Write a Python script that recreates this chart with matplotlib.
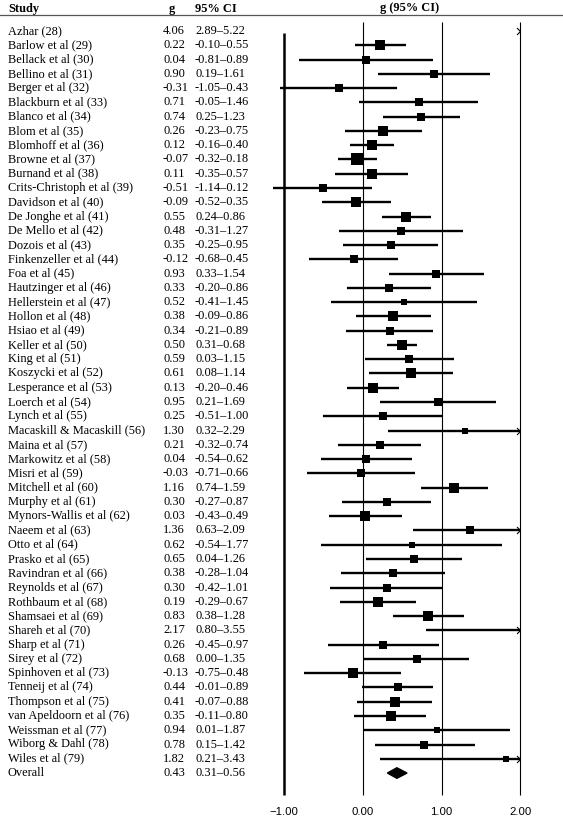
import numpy as np
import matplotlib
matplotlib.use("Agg")
from matplotlib import pyplot as plt
from matplotlib.path import Path
from matplotlib.patches import Polygon

# study data
studies = [
    "Azhar (28)", "Barlow et al (29)", "Bellack et al (30)", "Bellino et al (31)",
    "Berger et al (32)", "Blackburn et al (33)", "Blanco et al (34)", "Blom et al (35)",
    "Blomhoff et al (36)", "Browne et al (37)", "Burnand et al (38)",
    "Crits-Christoph et al (39)", "Davidson et al (40)", "De Jonghe et al (41)",
    "De Mello et al (42)", "Dozois et al (43)", "Finkenzeller et al (44)", "Foa et al (45)",
    "Hautzinger et al (46)", "Hellerstein et al (47)", "Hollon et al (48)",
    "Hsiao et al (49)", "Keller et al (50)", "King et al (51)", "Koszycki et al (52)",
    "Lesperance et al (53)", "Loerch et al (54)", "Lynch et al (55)",
    "Macaskill & Macaskill (56)", "Maina et al (57)", "Markowitz et al (58)",
    "Misri et al (59)", "Mitchell et al (60)", "Murphy et al (61)",
    "Mynors-Wallis et al (62)", "Naeem et al (63)", "Otto et al (64)",
    "Prasko et al (65)", "Ravindran et al (66)", "Reynolds et al (67)",
    "Rothbaum et al (68)", "Shamsaei et al (69)", "Shareh et al (70)", "Sharp et al (71)",
    "Sirey et al (72)", "Spinhoven et al (73)", "Tenneij et al (74)",
    "Thompson et al (75)", "van Apeldoorn et al (76)", "Weissman et al (77)",
    "Wiborg & Dahl (78)", "Wiles et al (79)",
]
g = [4.06, 0.22, 0.04, 0.90, -0.31, 0.71, 0.74, 0.26, 0.12, -0.07, 0.11, -0.51, -0.09,
     0.55, 0.48, 0.35, -0.12, 0.93, 0.33, 0.52, 0.38, 0.34, 0.50, 0.59, 0.61, 0.13,
     0.95, 0.25, 1.30, 0.21, 0.04, -0.03, 1.16, 0.30, 0.03, 1.36, 0.62, 0.65, 0.38,
     0.30, 0.19, 0.83, 2.17, 0.26, 0.68, -0.13, 0.44, 0.41, 0.35, 0.94, 0.78, 1.82]
lo = [2.89, -0.10, -0.81, 0.19, -1.05, -0.05, 0.25, -0.23, -0.16, -0.32, -0.35, -1.14,
      -0.52, 0.24, -0.31, -0.25, -0.68, 0.33, -0.20, -0.41, -0.09, -0.21, 0.31, 0.03,
      0.08, -0.20, 0.21, -0.51, 0.32, -0.32, -0.54, -0.71, 0.74, -0.27, -0.43, 0.63,
      -0.54, 0.04, -0.28, -0.42, -0.29, 0.38, 0.80, -0.45, 0.00, -0.75, -0.01, -0.07,
      -0.11, 0.01, 0.15, 0.21]
hi = [5.22, 0.55, 0.89, 1.61, 0.43, 1.46, 1.23, 0.75, 0.40, 0.18, 0.57, 0.12, 0.35,
      0.86, 1.27, 0.95, 0.45, 1.54, 0.86, 1.45, 0.86, 0.89, 0.68, 1.15, 1.14, 0.46,
      1.69, 1.00, 2.29, 0.74, 0.62, 0.66, 1.59, 0.87, 0.49, 2.09, 1.77, 1.26, 1.04,
      1.01, 0.67, 1.28, 3.55, 0.97, 1.35, 0.48, 0.89, 0.88, 0.80, 1.87, 1.42, 3.43]
# relative study weights (estimated from the square sizes)
weights = [1.0, 3.0, 1.5, 1.5, 1.5, 1.5, 1.9, 2.4, 3.0, 3.6, 2.4, 1.9, 2.4, 2.4, 1.5,
           1.9, 1.9, 1.9, 1.9, 1.1, 2.4, 1.9, 3.0, 1.9, 2.4, 2.4, 1.9, 1.5, 1.1, 1.9,
           1.9, 1.9, 3.0, 1.9, 2.4, 1.5, 1.1, 1.9, 1.9, 1.5, 2.4, 2.4, 1.0, 1.9, 1.9,
           2.4, 1.9, 2.4, 2.4, 1.1, 1.9, 1.1]
overall = (0.43, 0.31, 0.56)
ticks = [-1.0, 0.0, 1.0, 2.0]

W, H = 563, 826
PX_UNIT = 78.7          # pixels per unit of g
X_ZERO_PX = 363         # pixel of g = 0
ROW0_PX, ROW_PX = 31, 14.27

fig = plt.figure(figsize=(W / 100, H / 100), dpi=100)
ax = fig.add_axes([0, 0, 1, 1])
ax.set_xlim(-X_ZERO_PX / PX_UNIT, (W - X_ZERO_PX) / PX_UNIT)
ax.set_ylim((H - ROW0_PX) / ROW_PX, -ROW0_PX / ROW_PX)
ax.axis("off")

serif = "Liberation Serif"
fs = 8.9
colx = ax.get_yaxis_transform()   # x in axes fraction, y in rows
xs_name, xs_g, xs_ci = 8 / W, 163 / W, 195 / W

def row(p):
    return (p - ROW0_PX) / ROW_PX

# header
ax.text(xs_name, row(9), "Study", transform=colx, family=serif, weight="bold",
        fontsize=fs, va="center")
ax.text(xs_g + 6 / W, row(9), "g", transform=colx, family=serif, weight="bold",
        fontsize=fs, va="center")
ax.text(xs_ci, row(9), "95% CI", transform=colx, family=serif, weight="bold",
        fontsize=fs, va="center")
ax.text(410 / W, row(8), "g (95% CI)", transform=colx, family=serif,
        weight="bold", fontsize=fs, va="center", ha="center")
ax.plot([0, 1], [row(15), row(15)], transform=colx, color="#555555", lw=0.9)

# reference lines
ybot = row(795)
for t in ticks:
    if t == ticks[0]:
        ax.plot([t, t], [row(33), ybot], color="black", lw=1.8, solid_capstyle="butt")
    else:
        ax.plot([t, t], [row(22), ybot], color="black", lw=0.8, solid_capstyle="butt")
    ax.text(t, row(812), f"{t:.2f}".replace("-", "\u2212"), ha="center", va="center",
            family="Liberation Sans", fontsize=8.2)

chevron = Path([(-1, 1), (0, 0), (-1, -1)], [Path.MOVETO, Path.LINETO, Path.LINETO])
xmax = ticks[-1]

for i, name in enumerate(studies):
    ax.text(xs_name, i, name, transform=colx, family=serif, fontsize=fs, va="center")
    ax.text(xs_g, i, f"{g[i]:.2f}", transform=colx, family=serif, fontsize=fs,
            va="center")
    ax.text(xs_ci, i, f"{lo[i]:.2f}\u2013{hi[i]:.2f}", transform=colx, family=serif,
            fontsize=fs, va="center")
    if lo[i] < xmax:
        ax.plot([lo[i], min(hi[i], xmax)], [i, i], color="black", lw=1.7,
                solid_capstyle="butt")
    if g[i] < xmax:
        side = 10.5 * np.sqrt(weights[i] / 3.0)
        ax.plot(g[i], i, marker="s", ms=side * 0.72, color="black", mew=0)
    if hi[i] > xmax:
        ax.plot(xmax - 0.005, i, marker=chevron, ms=5, mfc="none", mec="black",
                mew=0.8)

# overall diamond
k = len(studies)
ax.text(xs_name, k, "Overall", transform=colx, family=serif, fontsize=fs, va="center")
ax.text(xs_g, k, f"{overall[0]:.2f}", transform=colx, family=serif, fontsize=fs,
        va="center")
ax.text(xs_ci, k, f"{overall[1]:.2f}\u2013{overall[2]:.2f}", transform=colx,
        family=serif, fontsize=fs, va="center")
h = 0.37
ax.add_patch(Polygon([(overall[1], k), (overall[0], k - h), (overall[2], k),
                      (overall[0], k + h)], closed=True, color="black"))

fig.savefig("out.png", dpi=100)
